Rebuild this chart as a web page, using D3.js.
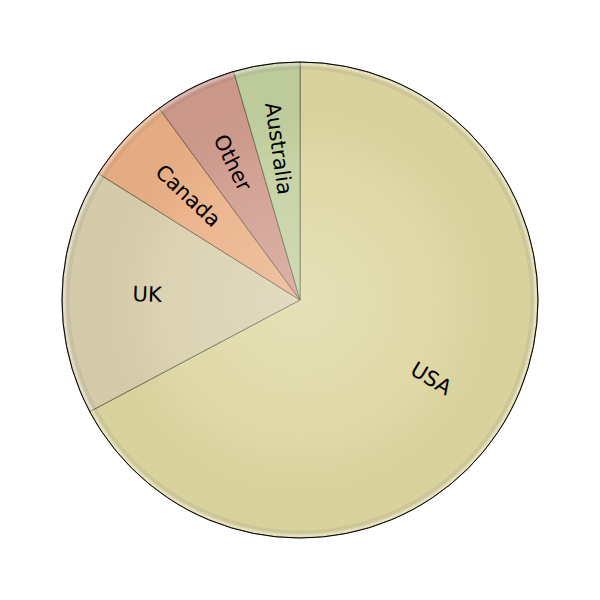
<!DOCTYPE html>
<html><head><meta charset="utf-8">
<script src="https://cdn.jsdelivr.net/npm/d3@7"></script>
<style>body{margin:0;background:#fff}svg{display:block}</style>
</head><body>
<script>
const categories = ["USA", "UK", "Canada", "Other", "Australia"];
const values = [67.3, 16.7, 6.0, 5.6, 4.5];
const colors = ["#ddd6a0", "#d9cfad", "#eaaf85", "#cf9a8b", "#c1cf9e"];

const W = 600, H = 600, R = 238, cx = 300, cy = 300;
const svg = d3.select("body").append("svg").attr("width", W).attr("height", H);
const defs = svg.append("defs");
const g = defs.append("radialGradient").attr("id", "shade")
  .attr("gradientUnits", "userSpaceOnUse").attr("cx", 0).attr("cy", 0).attr("r", R);
[[0, "#ffffff", 0.25], [0.6, "#ffffff", 0.07], [0.965, "#000000", 0.02],
 [0.99, "#ffffff", 0.35], [1, "#ffffff", 0.1]].forEach(([o, c, a]) =>
  g.append("stop").attr("offset", o).attr("stop-color", c).attr("stop-opacity", a));

const data = categories.map((c, i) => ({ name: c, value: values[i], color: colors[i] }));
const pie = d3.pie().sort(null).value(d => d.value);
const arc = d3.arc().innerRadius(0).outerRadius(R);
const labelArc = d3.arc().innerRadius(153).outerRadius(153);

const root = svg.append("g").attr("transform", `translate(${cx},${cy})`);
const arcs = pie(data);
root.selectAll("path.slice").data(arcs).join("path").attr("class", "slice")
  .attr("d", arc).attr("fill", d => d.data.color)
  .attr("stroke", "rgba(60,60,40,0.55)").attr("stroke-width", 1);
root.append("circle").attr("r", R).attr("fill", "url(#shade)");
root.append("circle").attr("r", R).attr("fill", "none").attr("stroke", "#000").attr("stroke-width", 1);

root.selectAll("text.lbl").data(arcs).join("text").attr("class", "lbl")
  .attr("transform", d => {
    const [x, y] = labelArc.centroid(d);
    let a = ((d.startAngle + d.endAngle) / 2) * 180 / Math.PI - 90;
    if (a > 90 && a < 270) a -= 180;
    return `translate(${x},${y}) rotate(${a})`;
  })
  .attr("text-anchor", "middle").attr("dy", "0.33em")
  .attr("font-family", "DejaVu Sans").attr("font-size", 21).attr("fill", "#000")
  .text(d => d.data.name);
</script>
</body></html>
